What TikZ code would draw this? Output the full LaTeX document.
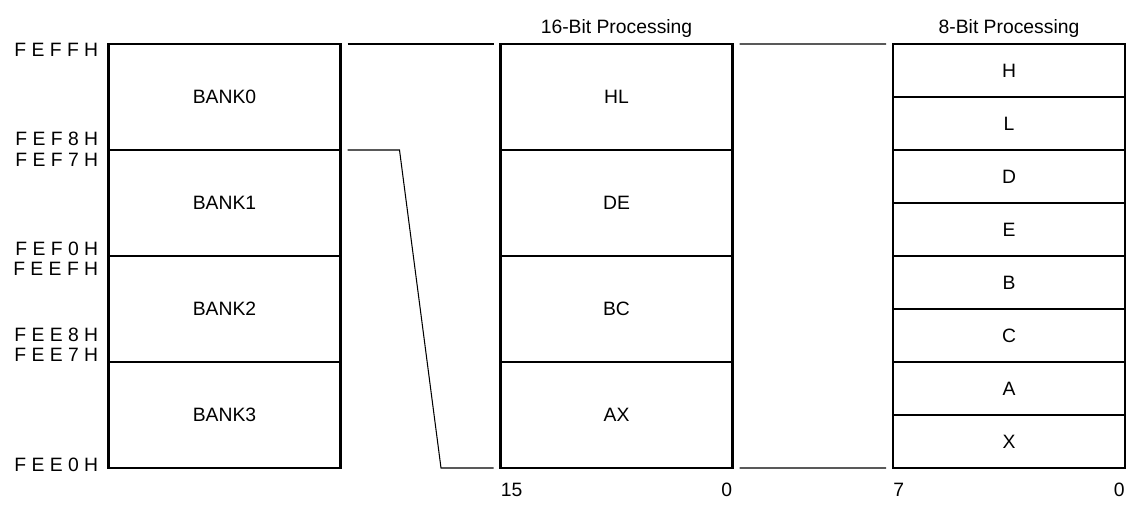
\documentclass[tikz,border=0pt]{standalone}
\usepackage{fontspec}
\setmainfont{Liberation Sans}
\usetikzlibrary{positioning}

\begin{document}
\begin{tikzpicture}[
  every node/.style={font=\fontsize{11}{13}\selectfont},
  cell/.style={rectangle, draw, line width=0.6pt, inner sep=0pt,
               outer sep=0pt, minimum width=4.64cm},
  bank/.style={cell, minimum height=2.12cm},
  half/.style={cell, minimum height=1.06cm},
  frame/.style={line width=1.2pt},
  link/.style={line width=0.6pt},
  addr/.style={anchor=base east, inner sep=0pt}
]
\useasboundingbox (0,0) rectangle (22.68,-10.16);

\def\colBank{4.49}
\def\colSixteen{12.33}
\def\colEight{20.18}

% register banks in RAM
\node[bank] at (\colBank,-1.94) (bank0) {BANK0};
\node[bank, below=0pt of bank0] (bank1) {BANK1};
\node[bank, below=0pt of bank1] (bank2) {BANK2};
\node[bank, below=0pt of bank2] (bank3) {BANK3};
\draw[frame] (bank0.north west) rectangle (bank3.south east);

\node[addr] at (1.97,-1.14) (aFEFF) {F E F F H};
\node[addr] at (1.97,-2.90) (aFEF8) {F E F 8 H};
\node[addr] at (1.97,-3.33) (aFEF7) {F E F 7 H};
\node[addr] at (1.97,-5.10) (aFEF0) {F E F 0 H};
\node[addr] at (1.97,-5.50) (aFEEF) {F E E F H};
\node[addr] at (1.97,-6.83) (aFEE8) {F E E 8 H};
\node[addr] at (1.97,-7.23) (aFEE7) {F E E 7 H};
\node[addr] at (1.97,-9.43) (aFEE0) {F E E 0 H};

% 16-bit view
\node[bank] at (\colSixteen,-1.94) (regHL) {HL};
\node[bank, below=0pt of regHL] (regDE) {DE};
\node[bank, below=0pt of regDE] (regBC) {BC};
\node[bank, below=0pt of regBC] (regAX) {AX};
\draw[frame] (regHL.north west) rectangle (regAX.south east);

\node[anchor=base] at (\colSixteen,-0.66) (title16) {16-Bit Processing};
\node[anchor=base west, inner sep=0pt] at (10.01,-9.92) (bit15) {15};
\node[anchor=base east, inner sep=0pt] at (14.65,-9.92) (bit0a) {0};

% 8-bit view
\node[half] at (\colEight,-1.41) (regH) {H};
\node[half, below=0pt of regH] (regL) {L};
\node[half, below=0pt of regL] (regD) {D};
\node[half, below=0pt of regD] (regE) {E};
\node[half, below=0pt of regE] (regB) {B};
\node[half, below=0pt of regB] (regC) {C};
\node[half, below=0pt of regC] (regA) {A};
\node[half, below=0pt of regA] (regX) {X};
\draw[frame] (regH.north west) rectangle (regX.south east);

\node[anchor=base] at (\colEight,-0.66) (title8) {8-Bit Processing};
\node[anchor=base west, inner sep=0pt] at (17.86,-9.92) (bit7) {7};
\node[anchor=base east, inner sep=0pt] at (22.50,-9.92) (bit0b) {0};

% links between the views
\draw[link] ([xshift=0.14cm]bank0.north east) -- ([xshift=-0.14cm]regHL.north west);
\draw[link] ([xshift=0.14cm]bank1.north east) -- ++(1.04,0)
            -- ([xshift=-1.19cm]regAX.south west) -- ([xshift=-0.14cm]regAX.south west);
\draw[link] ([xshift=0.14cm]regHL.north east) -- ([xshift=-0.14cm]regH.north west);
\draw[link] ([xshift=0.14cm]regAX.south east) -- ([xshift=-0.14cm]regX.south west);

\end{tikzpicture}
\end{document}
